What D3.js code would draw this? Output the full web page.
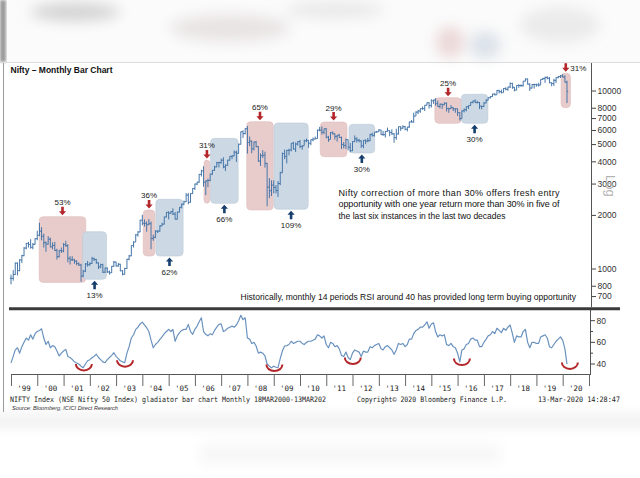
<!DOCTYPE html>
<html><head><meta charset="utf-8">
<script src="https://cdn.jsdelivr.net/npm/d3@7"></script>
<style>body{margin:0;background:#fff;} svg{display:block}</style>
</head><body><svg id="c" width="640" height="478"></svg>
<script>
// ---------- DATA ----------
const startYear = 1999; // first monthly bar = Jan 1999
const closes = [
 887,931,1078,980,1124,1188,1311,1392,1373,1325,1376,1480,
 1546,1632,1528,1407,1381,1471,1332,1357,1271,1173,1268,1264,
 1371,1352,1148,1126,1126,1107,1073,1053,913,972,1067,1059,
 1075,1142,1130,1084,1028,1058,959,1011,963,952,1036,1094,
 1041,1063,978,934,1007,1134,1185,1356,1418,1555,1615,1880,
 1809,1800,1772,1796,1484,1506,1632,1632,1746,1786,1959,2081,
 2058,2104,2036,1902,2087,2221,2312,2385,2602,2371,2652,2837,
 3001,3075,3403,3558,3071,3128,3143,3414,3588,3744,3955,3966,
 4083,3745,3822,4087,4296,4318,4529,4464,5021,5901,5763,6139,
 5137,5224,4735,5166,4871,4040,4333,4360,3921,2885,2755,2959,
 2874,2763,3021,3474,4449,4291,4636,4662,5084,4712,5033,5201,
 4882,4922,5249,5278,5087,5313,5368,5402,6030,6018,5863,6135,
 5506,5333,5834,5750,5560,5647,5482,5001,4943,5327,4832,4624,
 5199,5385,5296,5248,4924,5279,5229,5259,5703,5620,5880,5905,
 6035,5693,5683,5930,5986,5842,5742,5472,5735,6299,6176,6304,
 6090,6277,6704,6696,7230,7611,7721,7954,7965,8322,8588,8283,
 8809,8902,8491,8182,8434,8369,8533,7971,7949,8066,7935,7946,
 7564,6987,7738,7850,8160,8288,8639,8786,8611,8626,8224,8186,
 8561,8880,9174,9304,9621,9521,10077,9918,9789,10335,10227,10531,
 11028,10493,10114,10739,10736,10714,11357,11681,10930,10387,10877,10863,
 10831,10793,11624,11748,11923,11789,11118,11023,11474,11877,12056,12168,
 11962,11202,9955
];
const highs = [
 930,985,1090,1090,1135,1200,1330,1400,1420,1470,1400,1490,
 1640,1818,1720,1580,1430,1530,1500,1410,1420,1300,1280,1320,
 1400,1440,1380,1180,1180,1140,1120,1090,1070,990,1080,1110,
 1090,1170,1160,1140,1090,1070,1070,1020,1020,980,1040,1110,
 1100,1080,1070,985,1015,1140,1200,1360,1430,1570,1630,1890,
 2015,1900,1850,1910,1850,1560,1650,1650,1760,1820,1970,2090,
 2110,2110,2190,2090,2100,2230,2330,2420,2670,2670,2660,2850,
 3020,3090,3420,3610,3775,3150,3220,3430,3600,3800,4000,4000,
 4170,4245,3880,4110,4300,4340,4630,4620,5060,5920,6010,6190,
 6357,5550,5280,5200,5230,4900,4460,4650,4560,3950,3240,3150,
 3150,2960,3120,3520,4510,4690,4670,4740,5090,5180,5140,5220,
 5310,4950,5330,5400,5280,5350,5480,5550,6070,6280,6340,6150,
 6180,5600,5870,5940,5780,5660,5740,5550,5170,5400,5330,5100,
 5220,5630,5500,5380,5280,5290,5350,5450,5740,5820,5890,5965,
 6110,6050,5970,5960,6230,6010,6090,5810,6140,6310,6340,6420,
 6360,6280,6730,6870,7560,7700,7840,7970,8180,8330,8620,8630,
 8990,8940,9120,8840,8490,8470,8650,8620,8060,8340,8110,7980,
 7970,7600,7780,7990,8210,8310,8670,8820,8970,8810,8670,8270,
 8670,8980,9220,9370,9650,9710,10120,10140,10180,10380,10490,10550,
 11170,11120,10530,10760,10930,10890,11370,11760,11750,11035,10920,10990,
 10990,11120,11630,11860,12040,12100,11980,11180,11700,11950,12160,12300,
 12430,12250,11430
];
const lows = [
 820,860,925,920,970,1080,1180,1290,1320,1300,1290,1370,
 1450,1530,1450,1320,1250,1370,1320,1290,1260,1130,1160,1230,
 1240,1330,1090,1060,1110,1070,1050,1040,849,900,960,1030,
 1040,1070,1110,1070,1000,1010,950,950,950,930,950,1030,
 1030,1030,970,920,930,1000,1120,1180,1320,1420,1520,1610,
 1760,1730,1620,1770,1292,1440,1490,1590,1620,1740,1780,1950,
 1900,2040,2010,1900,1900,2080,2190,2280,2380,2310,2360,2640,
 2780,2960,3050,3310,2900,2600,2880,3110,3380,3560,3730,3720,
 3900,3680,3550,3800,4060,4140,4300,4000,4450,5000,5450,5700,
 4450,4900,4470,4630,4820,4000,3790,4200,3715,2252,2500,2570,
 2660,2660,2539,2960,3470,4140,3920,4350,4580,4690,4540,4940,
 4770,4680,4940,5160,4790,4960,5220,5350,5400,5940,5690,5720,
 5420,5180,5350,5690,5330,5200,5450,4720,4760,4730,4640,4530,
 4590,5160,5140,5150,4790,4770,5030,5160,5220,5550,5550,5820,
 5890,5670,5600,5480,5910,5570,5670,5120,5320,5700,5970,6130,
 6020,5930,6210,6650,6640,7240,7420,7540,7840,7720,8290,7960,
 8070,8470,8270,8140,7990,7940,8320,7670,7540,7930,7710,7550,
 7240,6825,6990,7580,7680,7930,8290,8520,8560,8510,7920,7890,
 8130,8540,8860,9070,9270,9450,9540,9690,9690,9830,10090,10030,
 10400,10280,9950,10120,10420,10550,10600,11330,10870,10000,10340,10330,
 10580,10590,10820,11550,11110,11630,11060,10640,10670,11090,11800,11830,
 11930,11180,8555
];
const rsi = [
 41,47,53,55,50,56,60,64,62,67,63,68,
 70,71,72.5,64,58,61,55,57,56,52,47.5,50,
 52,53.5,47,46,44.3,42,41,40,38,36.6,40,43,
 44,45.8,47,49,46,44,42,41.2,44,46,48,50.4,
 47,45,43,42,41.2,50,56,64,67,72,74,77,
 78.7,76,73.5,70,62,55,58,60,62.8,65,68,70,
 72,70,72,61,66,69,71,72,72,76.6,70,67.4,
 72,75,79,82.7,70,67.4,66,68,67,71,74,76.6,
 77,70,71,73,74,75,74,76,80,85,81,82.7,
 64,63,59,60,56.6,50,51,50,47.4,40,38,36.6,
 38,37,36.6,45,52,56.6,57,58,61,59,60,61,
 61,59,58,60,61,61,62,63,67,66,64,66,
 58,55,60,59,56,57,54,48,47,51,46,44,
 50,53,52,51,47,52,51,51,56,55,57,58,
 59,54,53,56,57,55,53,49,53,59,58,59,
 56,58,63,63,68,71,72,74,74,76,79,73,
 77,78,70,65,67,66,67,58,57,59,56,55,
 50,42,53,54,58,59,63,64,62,62,56,56,
 60,63,66,67,70,68,73,71,69,73,71,74,
 76,68,60,66,65,65,70,72,60,55,60,60,
 59,59,65,66,67,64,56,55,58,61,63,65,
 62,54,40
];
const yearLabels = ["'99","'00","'01","'02","'03","'04","'05","'06","'07","'08","'09","'10","'11","'12","'13","'14","'15","'16","'17","'18","'19","'20"];
const priceTicks = [700,800,1000,2000,3000,4000,5000,6000,7000,8000,10000];
const rsiTicks = [40,60,80];
const rsiMinorTicks = [50,70];
// correction (fall) and recovery (rise) zones
const zoneKind  = ["fall","rise","fall","rise","fall","rise","fall","rise","fall","rise","fall","rise","fall"];
const zoneStart = ["2000-01-28","2001-09-23","2004-01-13","2004-07-07","2006-05-07","2006-08-07","2007-12-22","2009-01-04","2010-10-10","2011-11-13","2015-02-19","2016-02-22","2019-12-10"];
const zoneEnd   = ["2001-11-06","2002-08-21","2004-06-24","2005-07-21","2006-07-28","2007-08-25","2008-12-25","2010-04-25","2011-10-16","2012-11-04","2016-02-22","2017-02-25","2020-04-18"];
const zoneHigh  = [1967,1621,2146,2464,4097,5420,6722,6610,6696,6500,9170,9583,12576];
const zoneLow   = [841,875,1183,1183,2339,2339,2146,2165,4274,4484,6585,6585,8058];
const zoneLabel = ["53%","13%","36%","62%","31%","66%","65%","109%","29%","30%","25%","30%","31%"];
const smileDates = ["2001-10-10","2003-05-05","2009-01-10","2012-01-05","2016-03-01","2020-04-10"];
const smileRsi   = [40,43.5,39.5,46,45,41.5];
const titleText = "Nifty – Monthly Bar Chart";
const noteLines = ["Nifty correction of more than 30% offers fresh entry",
  "opportunity with one year return more than 30% in five of",
  "the last six instances in the last two decades"];
const rsiNote = "Historically, monthly 14 periods RSI around 40 has provided long term buying  opportunity";
const footerLeft = "NIFTY Index (NSE Nifty 50 Index) gladiator bar chart  Monthly 18MAR2000-13MAR202";
const footerMid = "Copyright© 2020 Bloomberg Finance L.P.";
const footerRight = "13-Mar-2020 14:28:47";
const sourceText = "Source: Bloomberg, ICICI Direct Research";

// ---------- DRAW ----------
const svg = d3.select("#c");
const narrow = "'Liberation Sans Narrow','Arial Narrow','Liberation Sans',Arial,sans-serif";
const mono = "'DejaVu Sans Mono','Liberation Mono',monospace";
const parse = d3.timeParse("%Y-%m-%d");

const x = d3.scaleTime().domain([new Date(1999,0,1), new Date(2021,0,1)]).range([11, 589]);
const y = d3.scaleLog().domain([1000, 10000]).range([269, 91]);
const yr = d3.scaleLinear().domain([40, 80]).range([364, 320.7]);
const mDate = i => new Date(startYear, i, 1);

// blurred header / footer background
const defs = svg.append("defs");
defs.append("filter").attr("id","bl").attr("x","-50%").attr("y","-50%").attr("width","200%").attr("height","200%")
  .append("feGaussianBlur").attr("stdDeviation", 7);
defs.append("filter").attr("id","bl2").append("feGaussianBlur").attr("stdDeviation", 1.5);
const hdr = svg.append("g");
hdr.append("rect").attr("x",0).attr("y",0).attr("width",640).attr("height",62).attr("fill","#fbfbfb");
const blobs = hdr.append("g").attr("filter","url(#bl)");
blobs.append("ellipse").attr("cx",75).attr("cy",12).attr("rx",45).attr("ry",9).attr("fill","#d2d2d2");
blobs.append("ellipse").attr("cx",230).attr("cy",28).attr("rx",60).attr("ry",14).attr("fill","#e8e4e4");
blobs.append("ellipse").attr("cx",335).attr("cy",10).attr("rx",50).attr("ry",8).attr("fill","#e8e8e8");
blobs.append("ellipse").attr("cx",450).attr("cy",42).attr("rx",14).attr("ry",16).attr("fill","#ecd8d8");
blobs.append("ellipse").attr("cx",485).attr("cy",45).attr("rx",16).attr("ry",14).attr("fill","#dbe2e9");
blobs.append("ellipse").attr("cx",560).attr("cy",25).attr("rx",40).attr("ry",18).attr("fill","#ebebeb");
hdr.append("rect").attr("x",0).attr("y",0).attr("width",6).attr("height",62).attr("fill","#9a9a9a").attr("filter","url(#bl2)");
svg.append("line").attr("x1",0).attr("x2",640).attr("y1",62.5).attr("y2",62.5).attr("stroke","#dcdcdc");

const ftr = svg.append("g").attr("filter","url(#bl)");
ftr.append("rect").attr("x",-20).attr("y",417).attr("width",680).attr("height",8).attr("fill","#e6e6e6");
ftr.append("rect").attr("x",200).attr("y",445).attr("width",300).attr("height",18).attr("fill","#f6f6f6");

// outer left frame line
svg.append("line").attr("x1",3.5).attr("x2",3.5).attr("y1",63).attr("y2",412).attr("stroke","#9a9a9a");

// title
svg.append("text").attr("x",10.5).attr("y",72.5).text(titleText)
  .attr("font-family",narrow).attr("font-weight","bold").attr("font-size",9.5).attr("fill","#111")
  .attr("textLength",102).attr("lengthAdjust","spacingAndGlyphs");

// zones
const zones = zoneKind.map((k,i)=>({k, s:parse(zoneStart[i]), e:parse(zoneEnd[i]), hi:zoneHigh[i], lo:zoneLow[i], lab:zoneLabel[i]}));
const zg = svg.append("g");
zg.selectAll("rect").data(zones).join("rect")
  .attr("x", d=>x(d.s)).attr("width", d=>x(d.e)-x(d.s))
  .attr("y", d=>y(d.hi)).attr("height", d=>y(d.lo)-y(d.hi))
  .attr("rx",4).attr("ry",4)
  .attr("fill", d=>d.k==="fall" ? "#e8cccc" : "#ccd8e3")
  .attr("stroke", d=>d.k==="fall" ? "#e0bcbc" : "#bccbd8").attr("stroke-width",0.6);

// price bars (OHLC, open = prior close)
const bars = closes.map((c,i)=>({d:mDate(i), c, h:highs[i], l:lows[i], o: i>0 ? closes[i-1] : c}));
svg.append("path")
  .attr("d", bars.map(b=>{
    const xx = x(b.d);
    return `M${xx},${y(b.h)}V${y(b.l)}M${xx-1.2},${y(b.o)}H${xx}M${xx},${y(b.c)}H${xx+1.2}`;
  }).join(""))
  .attr("fill","none").attr("stroke","#4676a9").attr("stroke-width",1);

// arrows + labels
const arrowPath = (cx, yTail, yTip) => {
  const dir = yTip > yTail ? 1 : -1;
  const hl = 4*dir;
  return `M${cx-1.3},${yTail}V${yTip-hl}H${cx-3.6}L${cx},${yTip}L${cx+3.6},${yTip-hl}H${cx+1.3}V${yTail}Z`;
};
zones.forEach(z=>{
  const cx = (x(z.s)+x(z.e))/2;
  if (z.k==="fall") {
    const top = y(z.hi);
    svg.append("path").attr("d", arrowPath(cx, top-10, top-1.5)).attr("fill","#b3262a");
    const side = top-22 < 63;
    svg.append("text").text(z.lab)
      .attr("x", side ? cx+4.5 : cx).attr("y", side ? top-2.5 : top-11.5)
      .attr("text-anchor", side ? "start" : "middle")
      .attr("font-family",narrow).attr("font-size",8).attr("fill","#222");
  } else {
    const bot = y(z.lo);
    svg.append("path").attr("d", arrowPath(cx, bot+10, bot+1.5)).attr("fill","#173f6e");
    svg.append("text").text(z.lab).attr("x",cx).attr("y",bot+18.5).attr("text-anchor","middle")
      .attr("font-family",narrow).attr("font-size",8).attr("fill","#222");
  }
});

// note text
const nt = svg.append("g").attr("font-family",narrow).attr("font-size",9).attr("fill","#111");
const noteLen = [221, 221, 167];
noteLines.forEach((t,i)=>{
  nt.append("text").attr("x",338.5).attr("y",195.5+i*11.5).text(t)
    .attr("textLength",noteLen[i]).attr("lengthAdjust", i<2 ? "spacing" : "spacingAndGlyphs");
});
svg.append("text").attr("x",240.5).attr("y",299.5).text(rsiNote)
  .attr("font-family",narrow).attr("font-size",9).attr("fill","#111")
  .attr("textLength",335.5).attr("lengthAdjust","spacingAndGlyphs");

// right price axis
const ax = svg.append("g").attr("transform","translate(591.5,0)");
ax.append("line").attr("y1",63).attr("y2",307).attr("stroke","#555");
const pt = ax.selectAll("g.t").data(priceTicks).join("g").attr("transform",d=>`translate(0,${y(d)})`);
pt.append("line").attr("x2",4.5).attr("stroke","#444");
pt.append("text").attr("x",6).attr("dy","0.33em").text(d=>d)
  .attr("font-family",narrow).attr("font-size",8.5).attr("fill","#333");
svg.append("text").text("Log").attr("transform","translate(606,175) rotate(90)")
  .attr("font-family","'Liberation Sans',Arial,sans-serif").attr("font-size",13).attr("fill","#b4b4b4");

// separator
svg.append("line").attr("x1",9).attr("x2",620).attr("y1",308.8).attr("y2",308.8).attr("stroke","#3a3a3a").attr("stroke-width",3);

// RSI panel
svg.append("line").attr("x1",590.5).attr("x2",590.5).attr("y1",310).attr("y2",374.5).attr("stroke","#555");
svg.append("line").attr("x1",11).attr("x2",591).attr("y1",374.5).attr("y2",374.5).attr("stroke","#555");
const rt = svg.append("g").attr("transform","translate(590.5,0)");
rt.selectAll("line.maj").data(rsiTicks).join("line").attr("x2",4.5).attr("y1",d=>yr(d)).attr("y2",d=>yr(d)).attr("stroke","#444");
rt.selectAll("line.min").data(rsiMinorTicks).join("line").attr("class","min").attr("x2",2.5).attr("y1",d=>yr(d)).attr("y2",d=>yr(d)).attr("stroke","#444");
rt.selectAll("text").data(rsiTicks).join("text").attr("x",6).attr("y",d=>yr(d)).attr("dy","0.33em").text(d=>d)
  .attr("font-family",narrow).attr("font-size",8.5).attr("fill","#333");

svg.append("path").datum(rsi)
  .attr("d", d3.line().x((v,i)=>x(mDate(i))).y(v=>yr(v)))
  .attr("fill","none").attr("stroke","#6a92bf").attr("stroke-width",1.2).attr("stroke-linejoin","round");

// smiles
smileDates.forEach((s,i)=>{
  const cx = x(parse(s)), cy = yr(smileRsi[i]);
  svg.append("path").attr("d",`M${cx-8},${cy}A8,6.5 0 0 0 ${cx+8},${cy}`)
    .attr("fill","none").attr("stroke","#b3262a").attr("stroke-width",2);
});

// year axis
const years = d3.range(0, 23).map(k=>new Date(1999+k,0,1));
svg.append("g").selectAll("line").data(years).join("line")
  .attr("x1",d=>x(d)+0.5).attr("x2",d=>x(d)+0.5).attr("y1",374.5).attr("y2",386).attr("stroke","#666");
svg.append("g").selectAll("text").data(yearLabels).join("text")
  .attr("x",(d,i)=>(x(years[i])+x(years[i+1]))/2).attr("y",391).attr("text-anchor","middle").text(d=>d)
  .attr("font-family",mono).attr("font-size",7.5).attr("fill","#222");

// footer
const ff = svg.append("g").attr("font-family",mono).attr("font-size",7.5).attr("fill","#222");
ff.append("text").attr("x",10).attr("y",402).text(footerLeft).attr("textLength",316).attr("lengthAdjust","spacingAndGlyphs");
ff.append("text").attr("x",357).attr("y",402).text(footerMid).attr("textLength",150).attr("lengthAdjust","spacingAndGlyphs");
ff.append("text").attr("x",538).attr("y",402).text(footerRight).attr("textLength",82).attr("lengthAdjust","spacingAndGlyphs");
svg.append("text").attr("x",12).attr("y",409.8).text(sourceText)
  .attr("font-family",narrow).attr("font-style","italic").attr("font-size",5.8).attr("fill","#333")
  .attr("textLength",106).attr("lengthAdjust","spacingAndGlyphs");
</script></body></html>
